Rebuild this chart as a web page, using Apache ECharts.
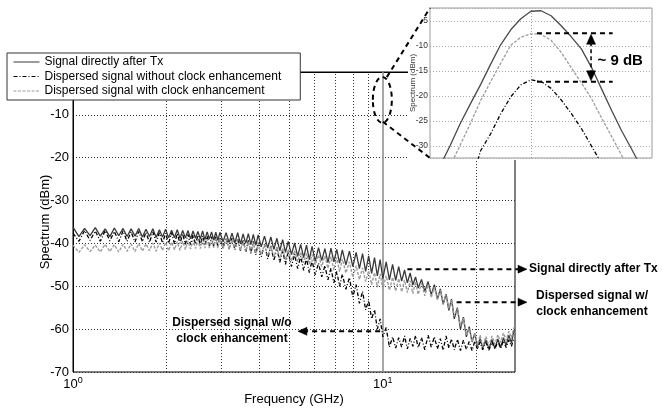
<!DOCTYPE html>
<html>
<head>
<meta charset="utf-8">
<script src="https://cdn.jsdelivr.net/npm/echarts@6/dist/echarts.min.js"></script>
<style>
html, body { margin: 0; padding: 0; background: #fff; }
#main { width: 662px; height: 411px; }
</style>
</head>
<body>
<div id="main"></div>
<script>
// frequency samples (GHz), shared by the three spectra
var freq = [
    1.000,1.045,1.090,1.135,1.180,1.225,1.270,1.315,1.360,1.405,
    1.450,1.495,1.540,1.585,1.630,1.675,1.720,1.765,1.810,1.855,
    1.900,1.945,1.990,2.035,2.080,2.125,2.170,2.215,2.260,2.305,
    2.350,2.395,2.440,2.485,2.530,2.575,2.620,2.665,2.710,2.755,
    2.800,2.845,2.890,2.935,2.980,
    3.05,3.12,3.19,3.26,3.33,3.40,3.47,3.54,3.61,3.68,3.75,3.82,3.89,3.96,
    4.05,4.15,4.25,4.35,4.45,4.55,4.65,4.75,4.85,4.95,
    5.07,5.19,5.31,5.43,5.55,5.67,5.79,5.91,
    6.05,6.20,6.35,6.50,6.65,6.80,6.95,7.10,7.25,7.40,
    7.60,7.80,8.00,8.20,8.40,8.60,8.80,9.00,9.20,9.40,9.60,9.80,
    10.00,10.25,10.50,10.75,11.00,11.25,11.50,11.75,12.00,12.25,12.50,12.75,
    13.00,13.33,13.66,14.00,14.33,14.66,15.00,15.33,15.66,16.00,16.33,16.66,
    17.0,17.4,17.8,18.2,18.6,19.0,19.4,19.8,20.2,20.6,
    21.0,21.5,22.0,22.5,23.0,23.5,24.0,24.5,25.0,25.5,26.0,26.5
];
// Signal directly after Tx (dBm)
var txDb = [
    -36.2,-38.4,-36.5,-38.2,-36.3,-38.3,-36.6,-38.4,-36.4,-38.2,
    -36.5,-38.4,-36.6,-38.3,-36.5,-38.5,-36.7,-38.4,-36.6,-38.6,
    -36.8,-38.5,-36.7,-38.7,-36.9,-38.6,-36.8,-38.8,-37.0,-38.7,
    -37.0,-38.9,-37.1,-38.8,-37.2,-39.0,-37.1,-39.1,-37.3,-39.0,
    -37.3,-39.2,-37.4,-39.3,-37.4,
    -39.6,-37.5,-39.8,-37.6,-39.9,-37.5,-40.1,-37.8,-40.0,-37.7,-40.3,-37.9,-40.4,-38.0,
    -40.8,-38.3,-41.1,-38.5,-41.4,-38.8,-41.7,-39.1,-42.1,-39.5,
    -42.6,-39.9,-43.0,-40.2,-43.3,-40.4,-43.8,-40.7,
    -44.2,-41.0,-44.0,-41.2,-44.5,-41.1,-44.3,-41.4,-44.6,-41.5,
    -45.0,-41.8,-45.4,-42.1,-45.9,-42.4,-46.5,-42.9,-47.0,-43.3,-47.6,-43.8,
    -48.2,-44.3,-48.5,-44.9,-48.6,-45.4,-48.8,-46.2,-49.2,-46.9,-49.7,-47.8,
    -50.4,-48.4,-51.2,-48.9,-52.0,-49.6,-53.0,-50.6,-54.2,-51.8,-55.6,-53.0,
    -57.6,-55.0,-60.0,-57.2,-61.8,-59.4,-63.0,-61.0,-64.0,-62.2,
    -64.4,-62.5,-64.6,-62.4,-64.5,-62.3,-64.3,-62.0,-63.8,-61.4,-63.2,-60.2
];
// Dispersed signal without clock enhancement (dBm)
var woDb = [
    -37.6,-39.5,-37.0,-39.3,-37.1,-39.5,-37.0,-39.4,-37.2,-39.6,
    -37.1,-39.5,-37.3,-39.7,-37.2,-39.6,-37.4,-39.8,-37.3,-39.7,
    -37.5,-39.9,-37.6,-40.0,-37.5,-40.1,-37.7,-40.0,-37.8,-40.2,
    -37.9,-40.3,-38.0,-40.2,-38.1,-40.4,-38.2,-40.5,-38.3,-40.6,
    -38.4,-40.7,-38.5,-40.8,-38.6,
    -41.0,-38.7,-41.2,-38.8,-41.5,-38.9,-41.7,-39.1,-42.0,-39.3,-42.3,-39.5,-42.7,-39.8,
    -43.1,-40.2,-43.6,-40.6,-44.0,-41.0,-44.4,-41.5,-44.9,-41.9,
    -45.4,-42.5,-45.9,-43.0,-46.3,-43.5,-46.8,-44.0,
    -47.3,-44.6,-47.8,-45.2,-48.5,-45.8,-49.2,-46.5,-50.0,-47.2,
    -50.7,-48.0,-52.5,-49.6,-54.0,-51.2,-55.5,-53.3,-57.6,-55.5,-60.0,-57.6,
    -61.8,-59.6,-64.2,-61.8,-64.4,-62.0,-64.2,-61.6,-64.6,-62.2,-64.0,-61.5,
    -64.3,-62.0,-64.8,-61.4,-64.2,-61.8,-64.6,-62.2,-64.9,-61.6,-64.4,-62.3,
    -64.8,-62.4,-65.0,-62.6,-64.7,-62.9,-65.0,-62.8,-64.7,-63.0,
    -64.8,-63.1,-64.9,-63.0,-64.6,-62.8,-64.5,-62.7,-64.3,-62.5,-64.0,-62.0
];
// Dispersed signal with clock enhancement (dBm)
var wcDb = [
    -40.4,-42.1,-40.3,-41.9,-40.4,-42.0,-40.2,-41.9,-40.3,-42.0,
    -40.2,-41.8,-40.1,-41.9,-40.0,-41.8,-40.1,-41.7,-39.9,-41.8,
    -39.9,-41.6,-39.8,-41.7,-39.7,-41.5,-39.6,-41.6,-39.5,-41.4,
    -39.4,-41.3,-39.3,-41.2,-39.2,-41.2,-39.1,-41.1,-39.0,-41.1,
    -39.0,-41.0,-38.9,-41.1,-38.9,
    -41.2,-39.0,-41.4,-39.1,-41.5,-39.3,-41.7,-39.4,-41.9,-39.6,-42.1,-39.8,-42.3,-40.0,
    -42.6,-40.3,-42.9,-40.6,-43.2,-40.8,-43.5,-41.1,-43.8,-41.4,
    -44.1,-41.7,-44.3,-42.0,-44.5,-42.3,-44.8,-42.6,
    -45.0,-42.7,-45.4,-42.9,-45.8,-43.1,-46.2,-43.3,-46.6,-43.6,
    -46.9,-44.3,-47.9,-45.2,-48.4,-45.7,-48.9,-46.4,-49.6,-46.8,-50.2,-47.1,
    -50.6,-47.5,-50.9,-47.9,-51.1,-48.2,-51.3,-48.5,-51.5,-48.7,-51.7,-48.9,
    -51.9,-49.2,-52.2,-49.6,-52.6,-50.2,-53.1,-50.9,-54.0,-51.9,-55.2,-53.2,
    -57.0,-55.2,-59.3,-57.4,-61.4,-59.8,-63.0,-60.9,-63.8,-61.4,
    -64.1,-61.7,-63.9,-61.6,-63.5,-61.3,-63.1,-60.9,-62.6,-60.5,-62.0,-59.6
];
var minorGridFreq = [2, 3, 4, 5, 6, 7, 8, 9, 20];
var clockFreq = 10;

// inset: zoom on the clock tone (offset in arbitrary units, dBm)
var insetPos = [-9,-8,-7,-6,-5,-4,-3,-2,-1,0,1,2,3,4,5,6,7,8,9,10,11];
var insetTx = [-34.0,-29.9,-25.5,-21.6,-17.8,-13.7,-9.8,-6.8,-4.6,-3.1,-3.0,-4.0,-6.0,-8.2,-10.6,-14.3,-18.6,-22.9,-27.0,-30.7,-34.5];
var insetWc = [-38.0,-34.0,-29.8,-25.5,-21.0,-17.2,-13.5,-9.9,-8.3,-7.6,-7.7,-8.9,-11.3,-14.4,-17.4,-20.5,-24.4,-28.1,-31.9,-36.0,null];
var insetWo = [null,null,null,-38.0,-31.0,-27.6,-23.6,-20.2,-17.8,-16.8,-17.1,-18.5,-20.8,-23.5,-26.5,-30.0,-33.5,null,null,null,null];
var peakWc = -7.5, peakWo = -17.2;

var names = ['Signal directly after Tx', 'Dispersed signal without clock enhancement', 'Dispersed signal with clock enhancement'];
var font = '"Liberation Sans", Arial, sans-serif';

function pairs(xs, ys) {
    var out = [];
    for (var i = 0; i < xs.length; i++) {
        out.push([xs[i], ys[i]]);
    }
    return out;
}

var chart = echarts.init(document.getElementById('main'));

var styles = [
    {color: '#383838', type: 'solid', width: 1.3},
    {color: '#000', type: [4, 2, 1, 2], width: 1.3},
    {color: '#9c9c9c', type: [3, 1.5], width: 1.4}
];
var mainData = [txDb, woDb, wcDb];
var insetData = [insetTx, insetWo, insetWc];

var series = [];
// gridlines of the main plot (under the data, under the legend)
series.push({
    type: 'line', data: [], xAxisIndex: 0, yAxisIndex: 0, z: 1, silent: true,
    markLine: {
        z: 1, silent: true, symbol: ['none', 'none'], animation: false,
        label: {show: false},
        lineStyle: {color: '#333', type: [1, 2], width: 1},
        data: minorGridFreq.map(function (f) { return {xAxis: f}; }).concat([
            {xAxis: clockFreq, lineStyle: {color: '#8a8a8a', type: 'solid', width: 1.5}}
        ])
    }
});
names.forEach(function (n, k) {
    series.push({
        name: n, type: 'line', xAxisIndex: 0, yAxisIndex: 0,
        symbol: 'none', showSymbol: false, z: 2 + k,
        lineStyle: styles[k], itemStyle: {color: styles[k].color},
        data: pairs(freq, mainData[k])
    });
});
// inset
series.push({
    type: 'line', data: [], xAxisIndex: 1, yAxisIndex: 1, z: 21, silent: true,
    markLine: {
        z: 21, silent: true, symbol: ['none', 'none'], animation: false,
        label: {show: false},
        lineStyle: {color: '#999', type: [1, 2], width: 1},
        data: [{xAxis: 0}]
    }
});
names.forEach(function (n, k) {
    series.push({
        type: 'line', xAxisIndex: 1, yAxisIndex: 1,
        symbol: 'none', showSymbol: false, z: 22 + k, silent: true,
        lineStyle: {color: k === 0 ? '#4a4a4a' : styles[k].color, type: styles[k].type, width: 1.3},
        data: pairs(insetPos, insetData[k])
    });
});

var option = {
    animation: false,
    backgroundColor: '#fff',
    textStyle: {fontFamily: font},
    legend: {
        orient: 'vertical', left: 7, top: 53, z: 8,
        padding: [2, 19, 2, 6], itemGap: 0.5, itemWidth: 26, itemHeight: 10,
        backgroundColor: '#fff', borderColor: '#333', borderWidth: 1, borderRadius: 0,
        itemStyle: {opacity: 0},
        lineStyle: {width: 1},
        textStyle: {fontSize: 12, color: '#000', lineHeight: 14, fontFamily: font},
        data: names
    },
    grid: [
        {left: 73, top: 72, width: 442, height: 301, show: true, borderColor: '#000', borderWidth: 1, backgroundColor: 'transparent'},
        {left: 430, top: 8, width: 222, height: 150, show: true, borderColor: '#999', borderWidth: 1, backgroundColor: '#fff', z: 20}
    ],
    xAxis: [
        {
            type: 'log', logBase: 10, min: 1, max: 26.7, gridIndex: 0,
            name: 'Frequency (GHz)', nameLocation: 'middle', nameGap: 21, nameMoveOverlap: false,
            nameTextStyle: {fontSize: 13, color: '#000', fontFamily: font},
            axisLine: {lineStyle: {color: '#000'}},
            axisTick: {show: false},
            splitLine: {show: false},
            axisLabel: {
                margin: 4, color: '#000', showMaxLabel: false,
                formatter: function (v) {
                    var e = Math.log(v) / Math.LN10;
                    if (Math.abs(e - Math.round(e)) > 1e-6) return '';
                    return '{b|10}{s|' + Math.round(e) + '}';
                },
                rich: {
                    b: {fontSize: 13, color: '#000', fontFamily: font, lineHeight: 16},
                    s: {fontSize: 9, color: '#000', fontFamily: font, verticalAlign: 'top', lineHeight: 10}
                }
            }
        },
        {
            type: 'value', gridIndex: 1, min: -10, max: 12, z: 21,
            axisLabel: {show: false}, axisTick: {show: false}, axisLine: {show: false}, splitLine: {show: false}
        }
    ],
    yAxis: [
        {
            type: 'value', gridIndex: 0, min: -70, max: 0, interval: 10,
            name: 'Spectrum (dBm)', nameLocation: 'middle', nameGap: 21, nameMoveOverlap: false,
            nameTextStyle: {fontSize: 13, color: '#000', fontFamily: font},
            axisLine: {show: true, lineStyle: {color: '#000'}},
            axisTick: {show: false},
            axisLabel: {fontSize: 13, color: '#000', margin: 4, fontFamily: font},
            splitLine: {show: true, lineStyle: {color: '#333', type: [1, 2], width: 1}}
        },
        {
            type: 'value', gridIndex: 1, min: -32.4, max: -2.45, splitNumber: 6, z: 21,
            name: 'Spectrum (dBm)', nameLocation: 'middle', nameGap: 13, nameMoveOverlap: false,
            nameTextStyle: {fontSize: 8, color: '#333', fontFamily: font},
            axisLine: {show: false}, axisTick: {show: false},
            axisLabel: {
                fontSize: 8.5, color: '#333', margin: 2, fontFamily: font,
                showMinLabel: false, showMaxLabel: false,
                formatter: function (v) { return Math.abs(v % 5) < 1e-6 ? String(v) : ''; }
            },
            splitLine: {show: true, lineStyle: {color: '#aaa', type: [1, 2], width: 1}}
        }
    ],
    series: series
};
chart.setOption(option);

// annotations
function px(f, db) { return chart.convertToPixel({gridIndex: 0}, [f, db]); }
function ipx(u, db) { return chart.convertToPixel({gridIndex: 1}, [u, db]); }
function dash(p1, p2, w, d) {
    return {type: 'line', z: 30, silent: true,
        shape: {x1: p1[0], y1: p1[1], x2: p2[0], y2: p2[1]},
        style: {stroke: '#000', lineWidth: w || 2, lineDash: d || [5, 4]}};
}
function head(tip, dir, len, half) {
    len = len || 9; half = half || 4;
    var x = tip[0], y = tip[1], pts;
    if (dir === 'right') pts = [[x, y], [x - len, y - half], [x - len, y + half]];
    if (dir === 'left') pts = [[x, y], [x + len, y - half], [x + len, y + half]];
    if (dir === 'up') pts = [[x, y], [x - half, y + len], [x + half, y + len]];
    if (dir === 'down') pts = [[x, y], [x - half, y - len], [x + half, y - len]];
    return {type: 'polygon', z: 40, silent: true, shape: {points: pts}, style: {fill: '#000', stroke: '#000', lineWidth: 0.5}};
}
function label(x, y, text, align, size) {
    return {type: 'text', z: 31, silent: true, x: x, y: y,
        style: {text: text, fill: '#000', fontSize: size || 12, fontWeight: 'bold', fontFamily: font,
            align: align || 'left', verticalAlign: 'middle', lineHeight: 16}};
}

var g = [];
g.push({type: 'rect', z: 10, silent: true, shape: {x: 408, y: 0, width: 254, height: 160}, style: {fill: '#fff'}});

// ellipse around the clock tone and connectors to the inset
var ec = px(clockFreq, -6.5);
g.push({type: 'ellipse', z: 30, silent: true, shape: {cx: ec[0] - 0.5, cy: ec[1], rx: 9.5, ry: 23},
    style: {fill: null, stroke: '#000', lineWidth: 2, lineDash: [5, 4]}});
g.push(dash(px(10.3, -1.2), ipx(-10, -2.45)));
g.push(dash(px(clockFreq, -11.6), ipx(-10, -32.4)));

// right-hand labels
var a1 = px(12.0, -46.0);
g.push(dash(a1, [519, a1[1]]));
g.push(head([527, a1[1]], 'right'));
g.push(label(529, a1[1], 'Signal directly after Tx', 'left'));

var a2 = px(17.3, -53.7);
g.push(dash(a2, [519, a2[1]]));
g.push(head([527, a2[1]], 'right'));
g.push(label(592, a2[1] + 2, 'Dispersed signal w/\nclock enhancement', 'center'));

var a3 = px(9.8, -60.5), t3 = px(5.32, -60.5);
g.push(dash(a3, [t3[0] + 8, t3[1]]));
g.push(head(t3, 'left'));
g.push(label(232, t3[1] - 1, 'Dispersed signal w/o\nclock enhancement', 'center'));

// inset: ~9 dB marker
g.push(dash(ipx(0.6, peakWc), ipx(8.1, peakWc)));
g.push(dash(ipx(0.6, peakWo), ipx(8.1, peakWo)));
var topP = ipx(5.96, peakWc), botP = ipx(5.96, peakWo);
g.push(dash([topP[0], topP[1] + 9], [botP[0], botP[1] - 9], 1.5, [4, 3]));
g.push(head([topP[0], topP[1] + 1], 'up', 10, 4.5));
g.push(head([botP[0], botP[1] - 1], 'down', 10, 4.5));
var tp = ipx(6.6, -13);
g.push(label(tp[0], tp[1], '~ 9 dB', 'left', 15));

chart.setOption({graphic: {elements: g}});
</script>
</body>
</html>
